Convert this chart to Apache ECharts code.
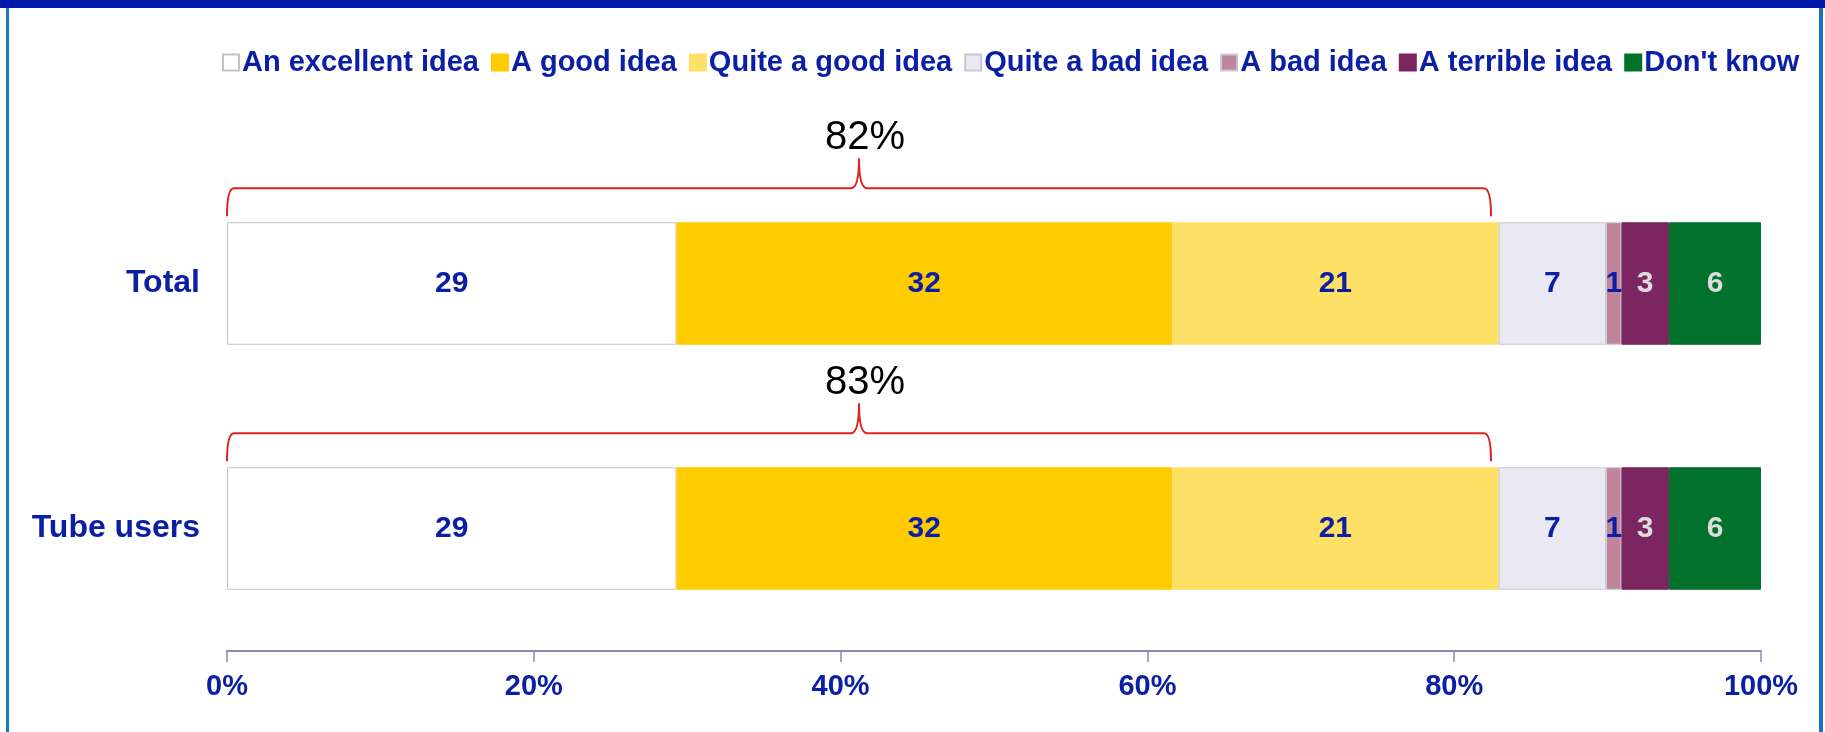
<!DOCTYPE html>
<html>
<head>
<meta charset="utf-8">
<script src="https://cdn.jsdelivr.net/npm/echarts@6/dist/echarts.min.js"></script>
<style>
html,body{margin:0;padding:0;background:#fff;}
#chart{width:1825px;height:732px;}
</style>
</head>
<body>
<div id="chart"></div>
<script>
// ---- data ----
const categories = ['Total', 'Tube users'];
const seriesNames = ['An excellent idea', 'A good idea', 'Quite a good idea', 'Quite a bad idea', 'A bad idea', 'A terrible idea', "Don't know"];
const excellentIdea = [29.3, 29.3];
const goodIdea = [32.3, 32.3];
const quiteGoodIdea = [21.3, 21.3];
const quiteBadIdea = [7.0, 7.0];
const badIdea = [1.0, 1.0];
const terribleIdea = [3.1, 3.1];
const dontKnow = [6.0, 6.0];
const barLabels = [
  ['29', '29'], ['32', '32'], ['21', '21'], ['7', '7'], ['1', '1'], ['3', '3'], ['6', '6']
];
const braceStart = [0, 0];
const braceEnd = [82.4, 82.4];
const braceLabels = ['82%', '83%'];
const xTickLabels = ['0%', '20%', '40%', '60%', '80%', '100%'];

// ---- styles ----
const seriesValues = [excellentIdea, goodIdea, quiteGoodIdea, quiteBadIdea, badIdea, terribleIdea, dontKnow];
const colors = ['#FFFFFF', '#FFCC00', '#FFE066', '#EAE8F2', '#C0849C', '#7B2660', '#00722B'];
const borderColors = ['#c4c4c4', '#FFCC00', '#FFE066', '#c8c8d0', '#c8c8d0', '#7B2660', '#00722B'];
const labelColors = ['#0a1fa6', '#0a1fa6', '#0a1fa6', '#0a1fa6', '#0a1fa6', '#dcdcdc', '#dcdcdc'];
const blue = '#0a1fa6';
const font = 'Arial, "Liberation Sans", sans-serif';

const barSeries = seriesNames.map((name, i) => ({
  name: name,
  type: 'bar',
  stack: 'all',
  barWidth: '50%',
  data: seriesValues[i],
  itemStyle: { color: colors[i], borderColor: borderColors[i], borderWidth: 1 },
  label: {
    show: true,
    position: 'inside',
    color: labelColors[i],
    fontSize: 30,
    fontWeight: 'bold',
    fontFamily: font,
    formatter: p => barLabels[i][p.dataIndex]
  },
  emphasis: { disabled: true }
}));

const braceData = categories.map((c, i) => [braceStart[i], i, braceEnd[i]]);

const braceSeries = {
  type: 'custom',
  name: 'brace',
  silent: true,
  clip: false,
  z: 10,
  encode: { x: [0, 2], y: 1 },
  data: braceData,
  renderItem: function (params, api) {
    const ci = api.value(1);
    const p0 = api.coord([api.value(0), ci]);
    const p1 = api.coord([api.value(2), ci]);
    const band = api.size([0, 1])[1];
    const barTop = p0[1] - band * 0.25;
    const x0 = p0[0], x1 = p1[0];
    const xm = (x0 + x1) / 2;
    const yb = barTop - 6, yh = barTop - 34, yt = barTop - 64;
    const r = 7, rt = 8;
    const d = 'M' + x0 + ' ' + yb +
      ' Q' + x0 + ' ' + yh + ' ' + (x0 + r) + ' ' + yh +
      ' L' + (xm - rt) + ' ' + yh +
      ' Q' + xm + ' ' + yh + ' ' + xm + ' ' + yt +
      ' Q' + xm + ' ' + yh + ' ' + (xm + rt) + ' ' + yh +
      ' L' + (x1 - r) + ' ' + yh +
      ' Q' + x1 + ' ' + yh + ' ' + x1 + ' ' + yb;
    return {
      type: 'group',
      children: [
        { type: 'path', shape: { pathData: d }, style: { stroke: '#E0201C', lineWidth: 2, fill: null } },
        { type: 'text', style: { text: braceLabels[params.dataIndex], x: xm + 6, y: barTop - 84, align: 'center', verticalAlign: 'middle', font: '40px Arial, "Liberation Sans", sans-serif', fill: '#000' } }
      ]
    };
  }
};

const chart = echarts.init(document.getElementById('chart'), null, { renderer: 'canvas' });
chart.setOption({
  animation: false,
  backgroundColor: '#fff',
  graphic: [
    { type: 'rect', shape: { x: 0, y: 0, width: 1825, height: 8 }, style: { fill: '#0019A8' }, z: 100 },
    { type: 'rect', shape: { x: 6, y: 0, width: 3, height: 732 }, style: { fill: '#1a78c2' }, z: 99 },
    { type: 'rect', shape: { x: 1819, y: 0, width: 4, height: 732 }, style: { fill: '#1a6fbf' }, z: 99 }
  ],
  legend: {
    data: seriesNames,
    left: 217,
    top: 43,
    itemWidth: 16,
    itemHeight: 16,
    itemGap: 12,
    icon: 'rect',
    selectedMode: false,
    textStyle: { color: blue, fontSize: 29, fontWeight: 'bold', fontFamily: font, padding: [0, 0, 0, -2] }
  },
  grid: { left: 227, right: 64, top: 161, bottom: 81, containLabel: false },
  xAxis: {
    type: 'value',
    min: 0,
    max: 100,
    interval: 20,
    axisLine: { show: true, lineStyle: { color: '#8a8ab4', width: 2 } },
    axisTick: { show: true, length: 11, lineStyle: { color: '#8a8ab4', width: 1.5 } },
    splitLine: { show: false },
    axisLabel: {
      color: blue, fontSize: 29, fontWeight: 'bold', fontFamily: font, margin: 21,
      formatter: v => xTickLabels[Math.round(v / 20)]
    }
  },
  yAxis: {
    type: 'category',
    data: categories,
    inverse: true,
    axisLine: { show: false },
    axisTick: { show: false },
    axisLabel: { color: blue, fontSize: 32, fontWeight: 'bold', fontFamily: font, margin: 27 }
  },
  series: barSeries.concat([braceSeries])
});
</script>
</body>
</html>
